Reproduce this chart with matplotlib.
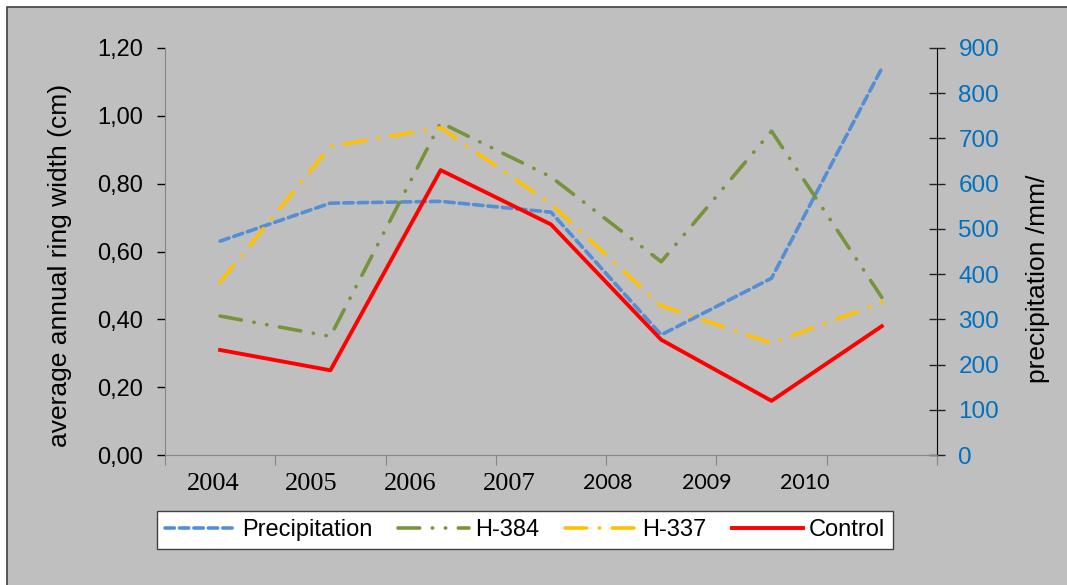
import matplotlib
matplotlib.use("Agg")
import matplotlib.pyplot as plt
from matplotlib.patches import Rectangle
import numpy as np

# data
years = ["2004", "2005", "2006", "2007", "2008", "2009", "2010"]
precipitation = [473, 557, 561, 537, 266, 391, 855]   # mm, right axis
h384 = [0.41, 0.35, 0.98, 0.82, 0.57, 0.955, 0.465]
h337 = [0.51, 0.91, 0.965, 0.74, 0.44, 0.33, 0.45]
control = [0.31, 0.25, 0.84, 0.68, 0.34, 0.16, 0.38]

left_ticks = [0.0, 0.2, 0.4, 0.6, 0.8, 1.0, 1.2]
right_ticks = [0, 100, 200, 300, 400, 500, 600, 700, 800, 900]

fig = plt.figure(figsize=(10.67, 5.85), dpi=100)
fig.patch.set_facecolor("white")
# grey chart area with dark edge on top/left
fig.patches.append(Rectangle((7 / 1067, -0.01), 1.0, 1 - 7 / 585 + 0.01,
                             transform=fig.transFigure, facecolor="#bfbfbf",
                             edgecolor="#404040", linewidth=1.2, zorder=-5))

ax = fig.add_axes([0.1546, 0.222, 0.7235, 0.696])
ax2 = ax.twinx()
# precipitation axis sits behind and carries the plot-area colour
ax2.set_zorder(1)
ax.set_zorder(2)
ax2.set_facecolor("#d8e4bc")
ax.patch.set_visible(False)

x = np.arange(len(years))
lw = 2.6

lp, = ax2.plot(x, precipitation, color="#558ed5", lw=lw, dashes=(2.6, 1.4),
               dash_capstyle="round")
l384, = ax.plot(x, h384, color="#77933c", lw=lw,
                dashes=(6, 3.5, 0.1, 3.5, 0.1, 3.5), dash_capstyle="round")
l337, = ax.plot(x, h337, color="#ffc000", lw=lw,
                dashes=(6, 3.5, 0.1, 3.5), dash_capstyle="round")
lc, = ax.plot(x, control, color="#ff0000", lw=lw + 0.2)

ax.set_xlim(-0.5, len(years) - 0.5)
ax.set_ylim(0, 1.2)
ax2.set_ylim(0, 900)

ax.set_yticks(left_ticks)
ax.set_yticklabels([f"{v:.2f}".replace(".", ",") for v in left_ticks],
                   fontsize=17, family="Liberation Sans")
ax.tick_params(axis="y", direction="out", length=6, width=1, color="black", pad=10)
ax2.set_yticks(right_ticks)
ax2.set_yticklabels([str(v) for v in right_ticks], fontsize=17.5,
                    family="Liberation Sans", color="#0070c0")
ax2.tick_params(axis="y", direction="inout", length=11, width=1, color="#222222", pad=10)

# category boundaries as tick marks, year labels placed separately
ax.set_xticks(np.arange(-0.5, len(years), 1.0))
ax.set_xticklabels([])
ax.tick_params(axis="x", which="major", direction="out", length=7, color="#868686")
label_pos = np.arange(len(years)) * 0.895 - 0.065
ax.set_xticks(label_pos, minor=True)
ax.set_xticklabels(years, minor=True)
ax.tick_params(axis="x", which="minor", length=0, pad=13)
for i, t in enumerate(ax.get_xticklabels(minor=True)):
    if i < 4:
        t.set_family("Liberation Serif")
        t.set_fontsize(19)
    else:
        t.set_family("Lato")
        t.set_fontsize(15.5)

for a in (ax, ax2):
    a.spines["top"].set_visible(False)
    a.spines["left"].set_color("#868686")
    a.spines["bottom"].set_color("#868686")
    a.spines["right"].set_color("black")
ax.spines["right"].set_visible(False)
ax2.spines["left"].set_visible(False)
ax2.spines["bottom"].set_visible(False)

ax.set_ylabel("average annual ring width (cm)", fontsize=19,
              family="Liberation Sans")
ax.yaxis.set_label_coords(-0.121, 0.467)
ax2.set_ylabel("precipitation /mm/", fontsize=19, family="Liberation Sans")
ax2.yaxis.set_label_coords(1.115, 0.432)

leg = fig.legend([lp, l384, l337, lc], ["Precipitation", "H-384", "H-337", "Control"],
                 loc="center", bbox_to_anchor=(0.492, 0.094), ncol=4,
                 prop={"family": "Liberation Sans", "size": 17},
                 frameon=True, fancybox=False, edgecolor="#404040",
                 facecolor="white", framealpha=1,
                 handlelength=3.0, columnspacing=1.1, handletextpad=0.25,
                 borderpad=0.35)
leg.get_frame().set_linewidth(1.0)

fig.savefig("out.png", dpi=100, facecolor=fig.get_facecolor())
